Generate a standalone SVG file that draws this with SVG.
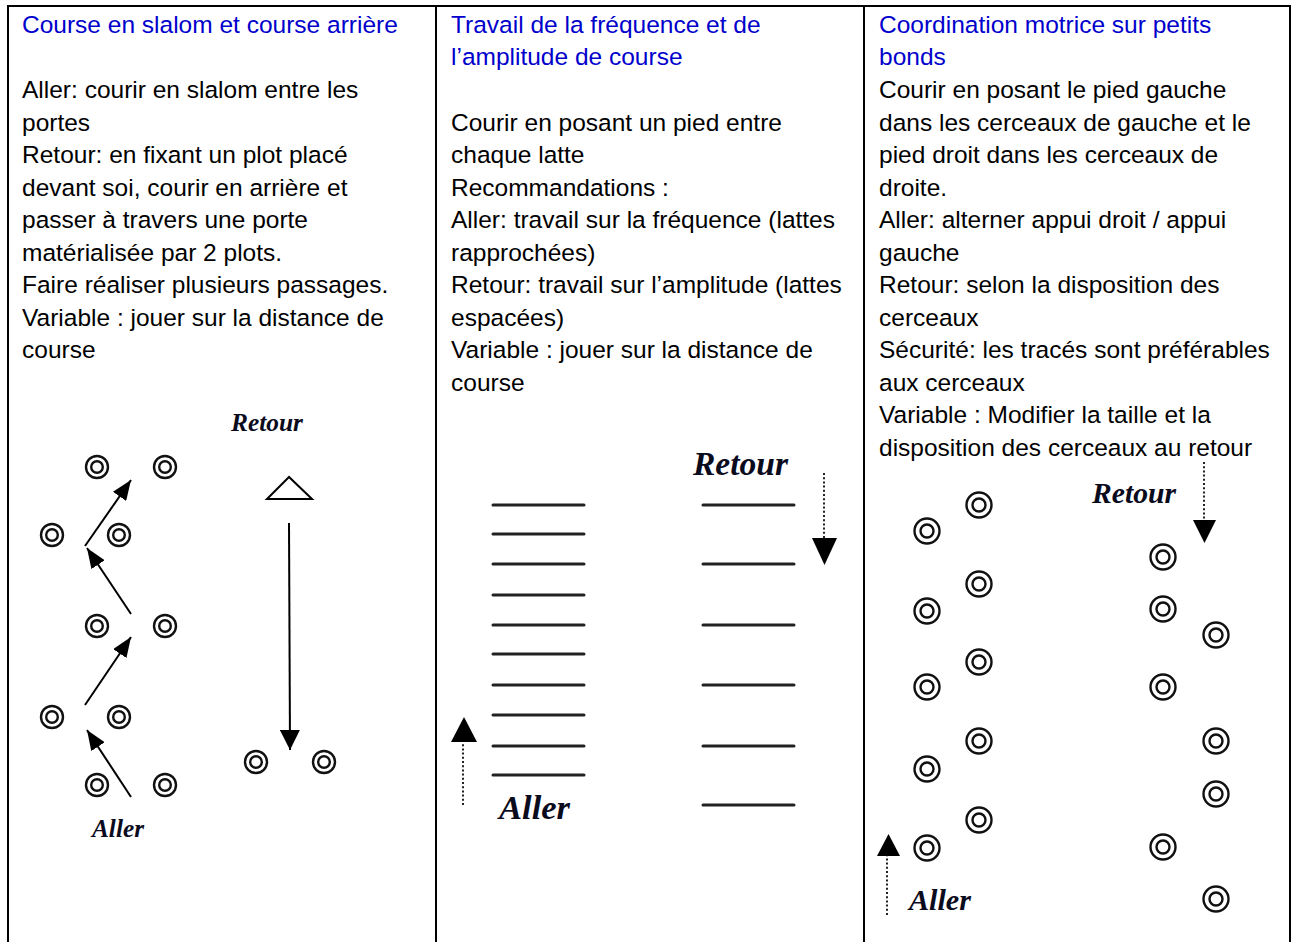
<svg xmlns="http://www.w3.org/2000/svg" width="1293" height="942" viewBox="0 0 1293 942">
<style>
.t{font-family:"Liberation Sans",Arial,sans-serif;font-size:24.5px;fill:#000}
.h{fill:#0000cc}
.lbl{font-family:"Liberation Serif","Times New Roman",serif;font-weight:bold;font-style:italic;fill:#0b0b1e}
.grid{stroke:#000;stroke-width:2;fill:none}
.ring{fill:none;stroke:#111;stroke-width:2.4}
.lat{stroke:#222;stroke-width:3;stroke-linecap:round}
.ln{stroke:#000;stroke-width:2;fill:none}
.dot{stroke:#222;stroke-width:2;stroke-dasharray:2 2.2;fill:none}
.head{fill:#000}
</style>
<defs>
<marker id="ah" viewBox="0 0 20 16" refX="20" refY="8" markerWidth="20" markerHeight="16" markerUnits="userSpaceOnUse" orient="auto"><path d="M0,0 L20,8 L0,16 z" fill="#000"/></marker>
<marker id="ah2" viewBox="0 0 20 20" refX="20" refY="10" markerWidth="20" markerHeight="20" markerUnits="userSpaceOnUse" orient="auto"><path d="M0,0 L20,10 L0,20 z" fill="#000"/></marker>
<g id="c1"><circle r="11" class="ring"/><circle r="5.8" class="ring"/></g>
<g id="c3"><circle r="12.5" class="ring" stroke-width="2.6"/><circle r="6.5" class="ring" stroke-width="2.6"/></g>
</defs>
<rect width="1293" height="942" fill="#fff"/>
<g id="table">
<line class="grid" x1="7" y1="6" x2="1291" y2="6"/>
<line class="grid" x1="8" y1="5" x2="8" y2="942"/>
<line class="grid" x1="436" y1="5" x2="436" y2="942"/>
<line class="grid" x1="864" y1="5" x2="864" y2="942"/>
<line class="grid" x1="1290" y1="5" x2="1290" y2="942"/>
</g>
<g id="col1-text" class="t">
<text x="22" y="33" class="t h">Course en slalom et course arrière</text>
<text x="22" y="98">Aller: courir en slalom entre les</text>
<text x="22" y="131">portes</text>
<text x="22" y="163">Retour: en fixant un plot placé</text>
<text x="22" y="196">devant soi, courir en arrière et</text>
<text x="22" y="228">passer à travers une porte</text>
<text x="22" y="261">matérialisée par 2 plots.</text>
<text x="22" y="293">Faire réaliser plusieurs passages.</text>
<text x="22" y="326">Variable : jouer sur la distance de</text>
<text x="22" y="358">course</text>
</g>
<g id="col2-text" class="t">
<text x="451" y="33" class="t h">Travail de la fréquence et de</text>
<text x="451" y="65" class="t h">l’amplitude de course</text>
<text x="451" y="131">Courir en posant un pied entre</text>
<text x="451" y="163">chaque latte</text>
<text x="451" y="196">Recommandations :</text>
<text x="451" y="228">Aller: travail sur la fréquence (lattes</text>
<text x="451" y="261">rapprochées)</text>
<text x="451" y="293">Retour: travail sur l’amplitude (lattes</text>
<text x="451" y="326">espacées)</text>
<text x="451" y="358">Variable : jouer sur la distance de</text>
<text x="451" y="391">course</text>
</g>
<g id="col3-text" class="t">
<text x="879" y="33" class="t h">Coordination motrice sur petits</text>
<text x="879" y="65" class="t h">bonds</text>
<text x="879" y="98">Courir en posant le pied gauche</text>
<text x="879" y="131">dans les cerceaux de gauche et le</text>
<text x="879" y="163">pied droit dans les cerceaux de</text>
<text x="879" y="196">droite.</text>
<text x="879" y="228">Aller: alterner appui droit / appui</text>
<text x="879" y="261">gauche</text>
<text x="879" y="293">Retour: selon la disposition des</text>
<text x="879" y="326">cerceaux</text>
<text x="879" y="358">Sécurité: les tracés sont préférables</text>
<text x="879" y="391">aux cerceaux</text>
<text x="879" y="423">Variable : Modifier la taille et la</text>
<text x="879" y="456">disposition des cerceaux au retour</text>
</g>
<g id="diagram1">
<text class="lbl" x="231" y="431" font-size="25" textLength="72" lengthAdjust="spacingAndGlyphs">Retour</text>
<text class="lbl" x="92" y="837" font-size="25" textLength="52" lengthAdjust="spacingAndGlyphs">Aller</text>
<use href="#c1" x="97" y="467"/><use href="#c1" x="165" y="467"/>
<use href="#c1" x="52" y="535"/><use href="#c1" x="119" y="535"/>
<use href="#c1" x="97" y="626"/><use href="#c1" x="165" y="626"/>
<use href="#c1" x="52" y="717"/><use href="#c1" x="119" y="717"/>
<use href="#c1" x="97" y="785"/><use href="#c1" x="165" y="785"/>
<use href="#c1" x="256" y="762"/><use href="#c1" x="324" y="762"/>
<polygon points="289,477 267,499 312,499" fill="none" stroke="#000" stroke-width="2"/>
</g>
<g id="diagram2">
<text class="lbl" x="693" y="475" font-size="33" textLength="95" lengthAdjust="spacingAndGlyphs">Retour</text>
<text class="lbl" x="499" y="819" font-size="33" textLength="71" lengthAdjust="spacingAndGlyphs">Aller</text>
<g class="lat">
<line x1="493" y1="505" x2="584" y2="505"/><line x1="493" y1="534" x2="584" y2="534"/>
<line x1="493" y1="564" x2="584" y2="564"/><line x1="493" y1="595" x2="584" y2="595"/>
<line x1="493" y1="625" x2="584" y2="625"/><line x1="493" y1="654" x2="584" y2="654"/>
<line x1="493" y1="685" x2="584" y2="685"/><line x1="493" y1="715" x2="584" y2="715"/>
<line x1="493" y1="746" x2="584" y2="746"/><line x1="493" y1="775" x2="584" y2="775"/>
<line x1="703" y1="505" x2="794" y2="505"/><line x1="703" y1="564" x2="794" y2="564"/>
<line x1="703" y1="625" x2="794" y2="625"/><line x1="703" y1="685" x2="794" y2="685"/>
<line x1="703" y1="746" x2="794" y2="746"/><line x1="703" y1="805" x2="794" y2="805"/>
</g>
</g>
<g id="diagram3">
<text class="lbl" x="1092" y="503" font-size="29" textLength="84" lengthAdjust="spacingAndGlyphs">Retour</text>
<text class="lbl" x="909" y="910" font-size="29" textLength="62" lengthAdjust="spacingAndGlyphs">Aller</text>
<use href="#c3" x="979" y="505"/><use href="#c3" x="927" y="531"/>
<use href="#c3" x="979" y="584"/><use href="#c3" x="927" y="611"/>
<use href="#c3" x="979" y="662"/><use href="#c3" x="927" y="687"/>
<use href="#c3" x="979" y="741"/><use href="#c3" x="927" y="769"/>
<use href="#c3" x="979" y="820"/><use href="#c3" x="927" y="848"/>
<use href="#c3" x="1163" y="557"/><use href="#c3" x="1163" y="609"/>
<use href="#c3" x="1216" y="635"/><use href="#c3" x="1163" y="687"/>
<use href="#c3" x="1216" y="741"/><use href="#c3" x="1216" y="794"/>
<use href="#c3" x="1163" y="847"/><use href="#c3" x="1216" y="899"/>
</g>
<g id="connectors">
<line class="ln" x1="131" y1="797" x2="87" y2="730" marker-end="url(#ah)"/>
<line class="ln" x1="85" y1="705" x2="131" y2="637" marker-end="url(#ah)"/>
<line class="ln" x1="131" y1="614" x2="87" y2="548" marker-end="url(#ah)"/>
<line class="ln" x1="85" y1="546" x2="131" y2="480" marker-end="url(#ah)"/>
<line class="ln" x1="289" y1="523" x2="290" y2="750" marker-end="url(#ah2)"/>
<line class="dot" x1="824" y1="473" x2="824" y2="540"/>
<polygon class="head" points="812,538 837,538 824.5,565"/>
<line class="dot" x1="463" y1="805" x2="463" y2="742"/>
<polygon class="head" points="451,742 477,742 464,717"/>
<line class="dot" x1="1204" y1="462" x2="1204" y2="521"/>
<polygon class="head" points="1193,520 1216,520 1204.5,543"/>
<line class="dot" x1="887" y1="915" x2="887" y2="855"/>
<polygon class="head" points="877,856 900,856 888.5,834"/>
</g>
</svg>
